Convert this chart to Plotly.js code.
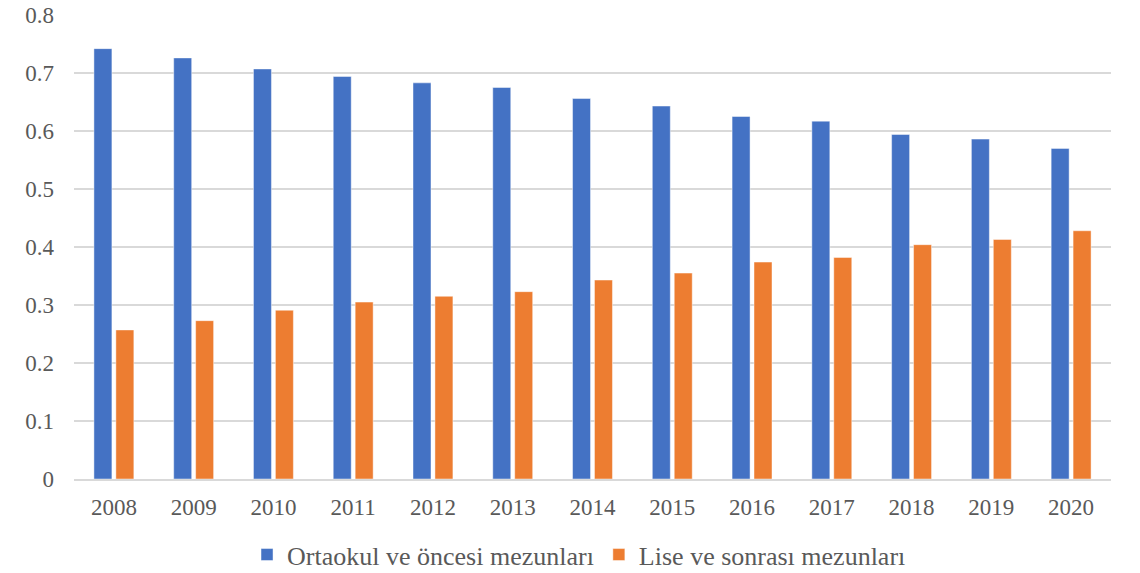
<!DOCTYPE html>
<html>
<head>
<meta charset="utf-8">
<script src="https://cdn.plot.ly/plotly-3.0.1.min.js"></script>
<style>html,body{margin:0;padding:0;background:#fff;}#chart{width:1140px;height:573px;}</style>
</head>
<body>
<div id="chart"></div>
<script>
const years = ["2008","2009","2010","2011","2012","2013","2014","2015","2016","2017","2018","2019","2020"];
const ortaokul = [0.742,0.726,0.707,0.694,0.683,0.675,0.656,0.643,0.625,0.617,0.594,0.586,0.570];
const lise = [0.257,0.273,0.291,0.305,0.315,0.323,0.343,0.355,0.374,0.382,0.404,0.413,0.428];
const seriesNames = ["Ortaokul ve öncesi mezunları","Lise ve sonrası mezunları"];
const yTicks = [0,0.1,0.2,0.3,0.4,0.5,0.6,0.7,0.8];
const yTickText = ["0","0.1","0.2","0.3","0.4","0.5","0.6","0.7","0.8"];

const FAMILY = '"Liberation Serif", "Times New Roman", Tinos, "DejaVu Serif", serif';
function mkFont(s){ return {family: FAMILY, size: s || 23, color: "#595959"}; }

const traces = [
  {type: "bar", x: years, y: ortaokul, name: seriesNames[0],
   marker: {color: "#4472C4", line: {color: "rgba(255,255,255,0.45)", width: 1}}},
  {type: "bar", x: years, y: lise, name: seriesNames[1],
   marker: {color: "#ED7D31", line: {color: "rgba(255,255,255,0.45)", width: 1}}}
];

const layout = {
  width: 1140, height: 573,
  margin: {l: 74, r: 29, t: 15, b: 94, autoexpand: false},
  paper_bgcolor: "#fff", plot_bgcolor: "#fff",
  font: mkFont(),
  barmode: "group",
  bargap: 0.45,
  bargroupgap: 0.18,
  showlegend: true,
  legend: {orientation: "h", x: 0.487, xanchor: "center", y: -0.163, yanchor: "middle",
           font: mkFont(26), itemwidth: 30, tracegroupgap: 0, traceorder: "normal"},
  xaxis: {type: "category", showgrid: false, showline: true, linecolor: "#d9d9d9", linewidth: 1.5,
          ticks: "", tickfont: mkFont(23), ticklabelstandoff: 7, automargin: false},
  yaxis: {range: [0, 0.8], tickvals: yTicks, ticktext: yTickText, showgrid: true,
          gridcolor: "#d9d9d9", gridwidth: 1.5, zeroline: false, showline: false,
          ticks: "", tickfont: mkFont(23), ticklabelstandoff: 19, automargin: false}
};

Plotly.newPlot("chart", traces, layout, {displayModeBar: false, staticPlot: true});
</script>
</body>
</html>
